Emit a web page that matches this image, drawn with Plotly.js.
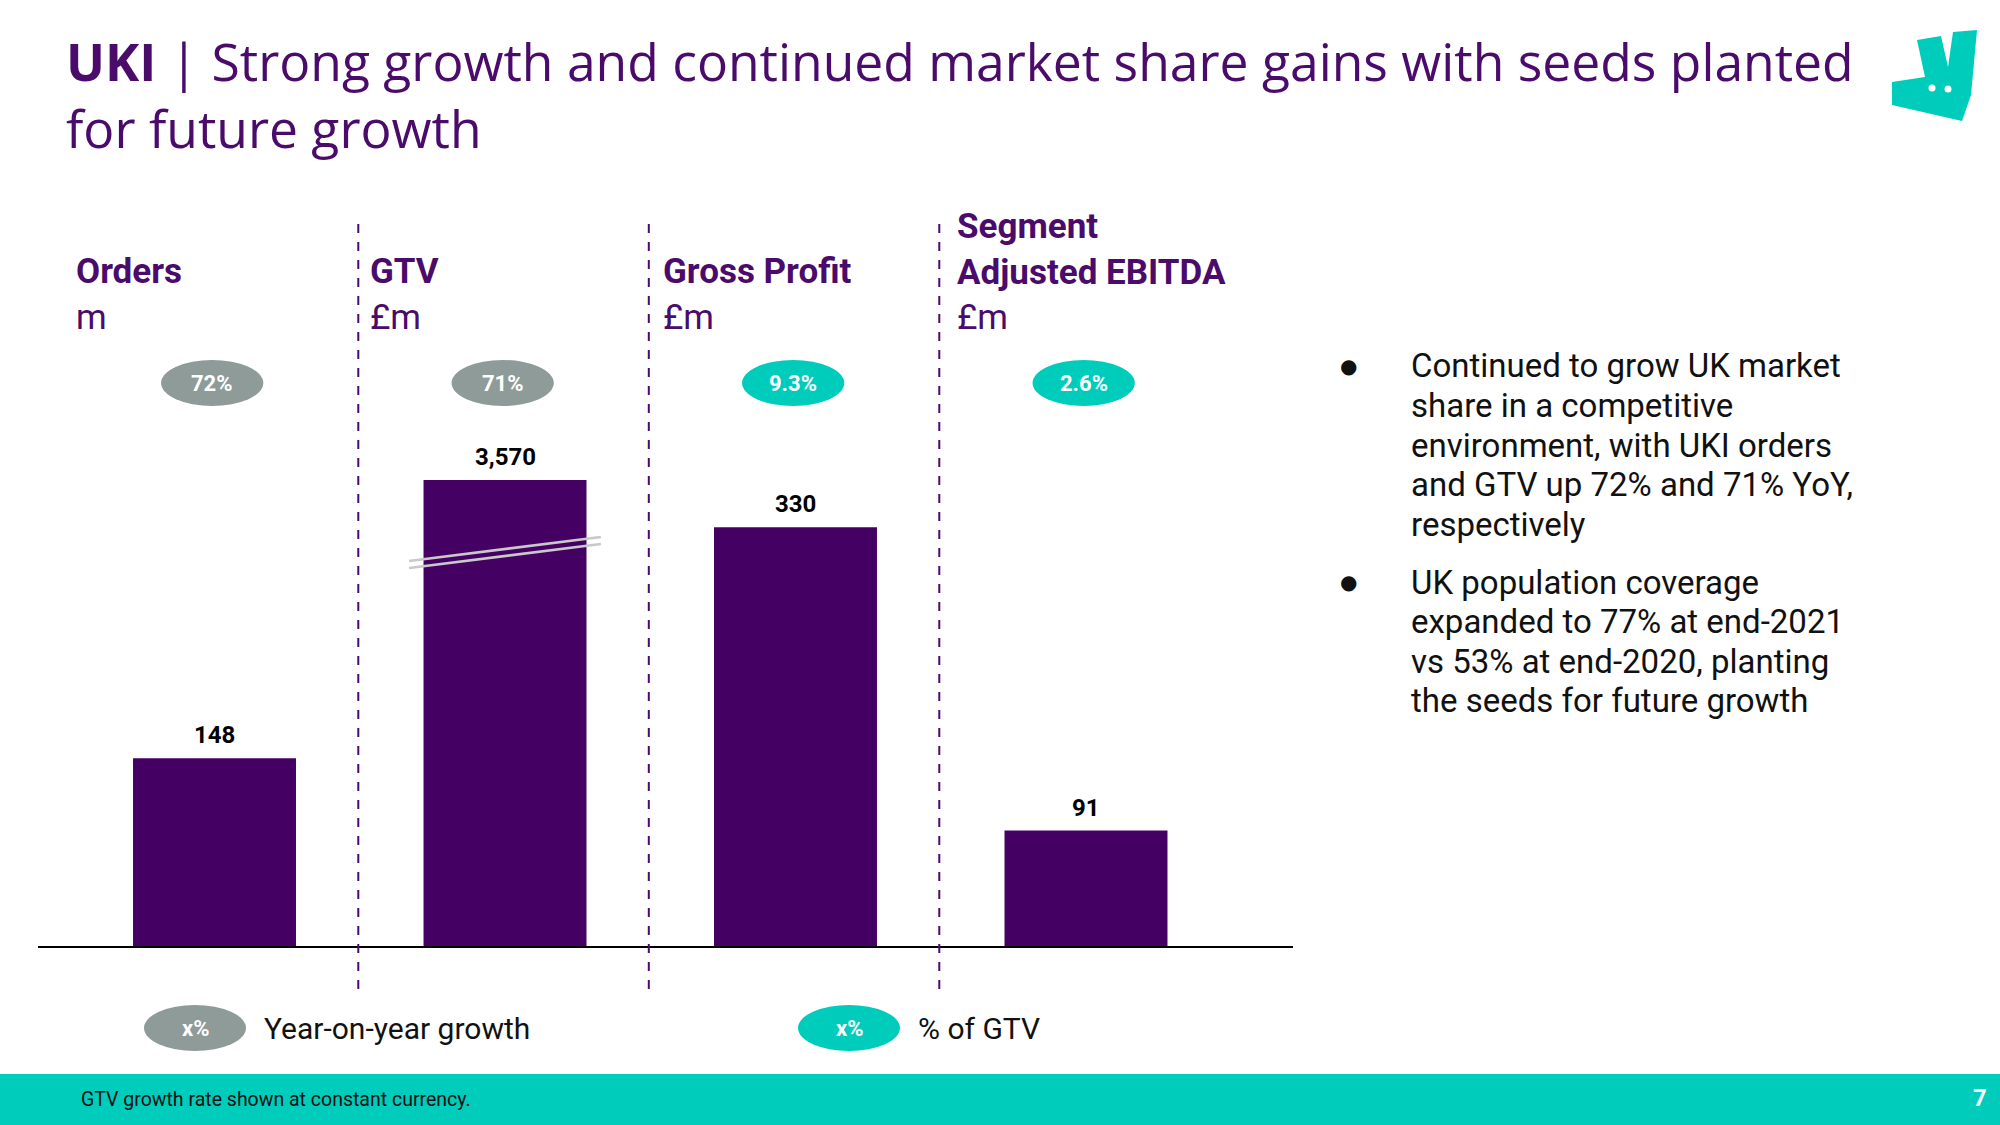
<!DOCTYPE html>
<html>
<head>
<meta charset="utf-8">
<script src="https://cdn.plot.ly/plotly-3.0.1.min.js"></script>
<style>html,body{margin:0;padding:0;background:#fff;}#chart{width:2000px;height:1125px;}</style>
</head>
<body>
<div id="chart"></div>
<script>
// ---- data ----
const categories = ['Orders', 'GTV', 'Gross Profit', 'Segment Adjusted EBITDA'];
const headerNames = ['Orders', 'GTV', 'Gross Profit', 'Segment<br>Adjusted EBITDA'];
const units = ['m', '£m', '£m', '£m'];
const values = [148, 3570, 330, 91];
const brokenAxis = [false, true, false, false];
const badgeLabels = ['72%', '71%', '9.3%', '2.6%'];
const badgeTypes = ['yoy', 'yoy', 'gtv', 'gtv'];
const legendLabels = ['Year-on-year growth', '% of GTV'];
const legendTypes = ['yoy', 'gtv'];
const bullets = [
  ['Continued to grow UK market', 'share in a competitive', 'environment, with UKI orders', 'and GTV up 72% and 71% YoY,', 'respectively'],
  ['UK population coverage', 'expanded to 77% at end-2021', 'vs 53% at end-2020, planting', 'the seeds for future growth']
];
const titleText = '<b>UKI</b> | Strong growth and continued market share gains with seeds planted<br>for future growth';
const footnote = 'GTV growth rate shown at constant currency.';
const pageNumber = '7';

// ---- styles ----
const W = 2000, H = 1125;
const PURPLE = '#440062';
const TEXT_PURPLE = '#4A0B6A';
const TEAL = '#00CCBC';
const GREY = '#8E9B99';
const px = x => x / W;
const py = y => 1 - y / H;
const badgeColor = t => t === 'yoy' ? GREY : TEAL;

const idx = categories.map((_, i) => i);
const mainIdx = idx.filter(i => !brokenAxis[i]);
const brokenIdx = idx.filter(i => brokenAxis[i]);

const traces = [
  {type: 'bar', x: mainIdx, y: mainIdx.map(i => values[i]), yaxis: 'y', width: 0.561,
   marker: {color: PURPLE}, hoverinfo: 'skip'},
  {type: 'bar', x: brokenIdx, y: brokenIdx.map(i => values[i]), yaxis: 'y2', width: 0.561,
   marker: {color: PURPLE}, hoverinfo: 'skip'}
];

const shapes = [];
const annotations = [];

// title
annotations.push({xref: 'paper', yref: 'paper', x: px(64), y: py(95), xanchor: 'left', yanchor: 'middle',
  text: titleText, showarrow: false, align: 'left',
  font: {family: 'Open Sans, sans-serif', size: 51.6, color: TEXT_PURPLE}});

// logo
const logoPts = [[1917,40],[1941,36],[1948,67],[1953,32],[1977,30],[1971,95],[1962,121],[1892,105],[1892,82],[1925,77]];
shapes.push({type: 'path', xref: 'paper', yref: 'paper', line: {width: 0}, fillcolor: TEAL,
  path: 'M' + logoPts.map(p => px(p[0]) + ',' + py(p[1])).join(' L') + ' Z'});
[[1932,88],[1948,89]].forEach(p => shapes.push({type: 'circle', xref: 'paper', yref: 'paper',
  x0: px(p[0]-3.5), x1: px(p[0]+3.5), y0: py(p[1]+3.5), y1: py(p[1]-3.5), fillcolor: '#fff', line: {width: 0}}));

// separators
for (let i = 0; i < categories.length - 1; i++) {
  shapes.push({type: 'line', xref: 'x', yref: 'paper', x0: i + 0.495, x1: i + 0.495, y0: py(989), y1: py(223),
    line: {color: TEXT_PURPLE, width: 2, dash: 'dash'}});
}

// headers
const headerX = [74, 368, 661, 955];
categories.forEach((c, i) => {
  annotations.push({xref: 'paper', yref: 'paper', x: px(headerX[i]), y: py(316 + 24), xanchor: 'left', yanchor: 'bottom',
    text: '<b>' + headerNames[i] + '</b><br>' + units[i], showarrow: false, align: 'left',
    font: {family: 'Roboto, sans-serif', size: 35, color: TEXT_PURPLE}});
  // badges
  shapes.push({type: 'circle', xref: 'x', yref: 'paper', x0: i - 0.176 - 0.008, x1: i + 0.176 - 0.008, y0: py(406), y1: py(360),
    fillcolor: badgeColor(badgeTypes[i]), line: {width: 0}});
  annotations.push({xref: 'x', yref: 'paper', x: i - 0.008, y: py(383), xanchor: 'center', yanchor: 'middle',
    text: '<b>' + badgeLabels[i] + '</b>', showarrow: false,
    font: {family: 'Roboto, sans-serif', size: 22, color: '#fff'}});
  // value labels
  annotations.push({xref: 'x', yref: brokenAxis[i] ? 'y2' : 'y', x: i, y: values[i], xanchor: 'center', yanchor: 'bottom',
    yshift: 7, text: '<b>' + values[i].toLocaleString('en-US') + '</b>', showarrow: false,
    font: {family: 'Roboto, sans-serif', size: 24, color: '#000'}});
});

// axis break marks
brokenIdx.forEach(i => {
  [0, 7].forEach(d => shapes.push({type: 'line', xref: 'x', yref: 'paper', x0: i - 0.33, x1: i + 0.33,
    y0: py(561 + d), y1: py(537 + d), line: {color: '#C9C9C9', width: 2.5}}));
});

// legend
const legendOvalX = [195, 849];
legendTypes.forEach((t, k) => {
  const cx = legendOvalX[k];
  shapes.push({type: 'circle', xref: 'paper', yref: 'paper', x0: px(cx - 51), x1: px(cx + 51), y0: py(1051), y1: py(1005),
    fillcolor: badgeColor(t), line: {width: 0}});
  annotations.push({xref: 'paper', yref: 'paper', x: px(cx), y: py(1028), xanchor: 'center', yanchor: 'middle',
    text: '<b>x%</b>', showarrow: false, font: {family: 'Roboto, sans-serif', size: 22, color: '#fff'}});
  annotations.push({xref: 'paper', yref: 'paper', x: px(cx + 67), y: py(1028), xanchor: 'left', yanchor: 'middle',
    text: legendLabels[k], showarrow: false, font: {family: 'Roboto, sans-serif', size: 30, color: '#111'}});
});

// bullets
const bulletY = [366, 582];
const lineGap = 39.6;
bullets.forEach((lines, k) => {
  annotations.push({xref: 'paper', yref: 'paper', x: px(1348), y: py(bulletY[k]), xanchor: 'center', yanchor: 'middle',
    text: '●', showarrow: false, font: {family: 'DejaVu Sans, sans-serif', size: 20, color: '#111'}});
  lines.forEach((ln, j) => annotations.push({xref: 'paper', yref: 'paper', x: px(1409), y: py(bulletY[k] + j * lineGap),
    xanchor: 'left', yanchor: 'middle', text: ln, showarrow: false, align: 'left',
    font: {family: 'Roboto, sans-serif', size: 33, color: '#111'}}));
});

// footer
shapes.push({type: 'rect', xref: 'paper', yref: 'paper', x0: 0, x1: 1, y0: 0, y1: py(1074), fillcolor: TEAL, line: {width: 0}, layer: 'below'});
annotations.push({xref: 'paper', yref: 'paper', x: px(79), y: py(1099), xanchor: 'left', yanchor: 'middle',
  text: footnote, showarrow: false, font: {family: 'Roboto, sans-serif', size: 19.5, color: '#111'}});
annotations.push({xref: 'paper', yref: 'paper', x: px(1980), y: py(1098), xanchor: 'center', yanchor: 'middle',
  text: '<b>' + pageNumber + '</b>', showarrow: false, font: {family: 'Roboto, sans-serif', size: 24, color: '#fff'}});

const layout = {
  width: W, height: H,
  margin: {l: 0, r: 0, t: 0, b: 0},
  paper_bgcolor: '#fff', plot_bgcolor: 'rgba(0,0,0,0)',
  showlegend: false,
  barmode: 'overlay',
  xaxis: {domain: [px(38), px(1293)], range: [-0.6076, 3.7126], showline: true, linecolor: '#000', linewidth: 2,
    showticklabels: false, ticks: '', showgrid: false, zeroline: false, fixedrange: true},
  yaxis: {domain: [py(946), py(200)], range: [0, 588], visible: false, showgrid: false, zeroline: false},
  yaxis2: {overlaying: 'y', range: [0, 5715], visible: false, showgrid: false, zeroline: false},
  shapes: shapes,
  annotations: annotations
};

Plotly.newPlot('chart', traces, layout, {staticPlot: true, displayModeBar: false});
</script>
</body>
</html>
